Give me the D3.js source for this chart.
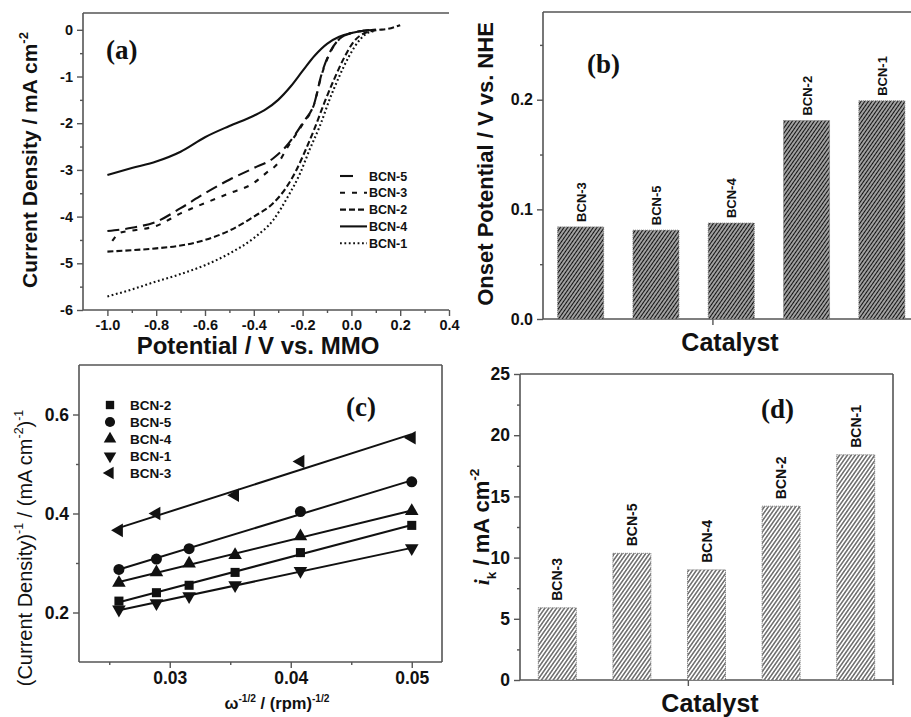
<!DOCTYPE html>
<html>
<head>
<meta charset="utf-8">
<script src="https://cdn.jsdelivr.net/npm/d3@7"></script>
<style>
  body { margin: 0; background: #fff; }
  svg { display: block; }
</style>
</head>
<body>
<svg id="fig" width="911" height="717"></svg>
<script>
// ---------------- data ----------------
// (a) linear sweep voltammograms: potential (V vs. MMO) and current density (mA cm^-2)
const lsvNames = ["BCN-5", "BCN-3", "BCN-2", "BCN-4", "BCN-1"];
const bcn5V = [-1.0, -0.9, -0.8, -0.7, -0.6, -0.5, -0.4, -0.32, -0.26, -0.2, -0.15, -0.125, -0.09, -0.05, 0.0, 0.05, 0.1];
const bcn5J = [-4.31, -4.24, -4.11, -3.82, -3.5, -3.21, -2.96, -2.75, -2.45, -2.0, -1.54, -1.0, -0.5, -0.2, -0.07, -0.02, 0.0];
const bcn3V = [-0.98, -0.95, -0.9, -0.8, -0.7, -0.6, -0.5, -0.4, -0.35, -0.3, -0.26, -0.2, -0.15, -0.125, -0.09, -0.05, 0.0, 0.05, 0.1];
const bcn3J = [-4.52, -4.35, -4.3, -4.2, -3.93, -3.71, -3.5, -3.28, -3.07, -2.85, -2.5, -2.02, -1.55, -1.02, -0.52, -0.2, -0.07, -0.02, 0.0];
const bcn2V = [-1.0, -0.9, -0.8, -0.7, -0.6, -0.5, -0.4, -0.32, -0.27, -0.23, -0.19, -0.15, -0.11, -0.07, -0.03, 0.01, 0.05, 0.1, 0.15, 0.2];
const bcn2J = [-4.75, -4.72, -4.68, -4.62, -4.5, -4.3, -4.0, -3.71, -3.4, -3.05, -2.6, -2.1, -1.55, -1.05, -0.6, -0.25, -0.08, -0.01, 0.02, 0.1];
const bcn4V = [-1.0, -0.9, -0.8, -0.7, -0.6, -0.5, -0.4, -0.35, -0.3, -0.25, -0.2, -0.15, -0.1, -0.05, 0.0, 0.05, 0.1];
const bcn4J = [-3.11, -2.96, -2.82, -2.61, -2.3, -2.06, -1.84, -1.7, -1.5, -1.22, -0.88, -0.55, -0.3, -0.15, -0.07, -0.02, 0.0];
const bcn1V = [-1.0, -0.9, -0.8, -0.7, -0.6, -0.5, -0.4, -0.32, -0.26, -0.21, -0.17, -0.13, -0.09, -0.05, -0.01, 0.035, 0.065, 0.1];
const bcn1J = [-5.71, -5.56, -5.39, -5.23, -5.04, -4.79, -4.46, -4.07, -3.57, -3.07, -2.55, -2.07, -1.5, -1.0, -0.57, -0.21, -0.07, -0.02];
const lsvDash = ["12,6", "5,7", "6,3", "none", "1.8,2.6"];

// (b) onset potential (V vs. NHE)
const catalysts = ["BCN-3", "BCN-5", "BCN-4", "BCN-2", "BCN-1"];
const onsetPotential = [0.084, 0.081, 0.0875, 0.181, 0.199];

// (c) Koutecky-Levich data: omega^-1/2 (rpm^-1/2) vs. 1/j
const klNames = ["BCN-2", "BCN-5", "BCN-4", "BCN-1", "BCN-3"];
const klShapes = ["square", "circle", "up", "down", "left"];
const klX2 = [0.0258, 0.0289, 0.0316, 0.0354, 0.0408, 0.05];
const klY2 = [0.223, 0.240, 0.255, 0.281, 0.321, 0.376];
const klX5 = [0.0258, 0.0289, 0.0316, 0.0408, 0.05];
const klY5 = [0.287, 0.308, 0.329, 0.404, 0.464];
const klX4 = [0.0258, 0.0289, 0.0316, 0.0354, 0.0408, 0.05];
const klY4 = [0.260, 0.281, 0.299, 0.316, 0.354, 0.405];
const klX1 = [0.0258, 0.0289, 0.0316, 0.0354, 0.0408, 0.05];
const klY1 = [0.206, 0.219, 0.233, 0.255, 0.284, 0.330];
const klX3 = [0.0258, 0.0289, 0.0354, 0.0408, 0.05];
const klY3 = [0.366, 0.400, 0.437, 0.505, 0.553];

// (d) kinetic current density (mA cm^-2)
const kineticCurrent = [5.9, 10.35, 9.0, 14.2, 18.4];

// tick values
const aTicksX = [-1.0, -0.8, -0.6, -0.4, -0.2, 0.0, 0.2, 0.4];
const aTicksY = [0, -1, -2, -3, -4, -5, -6];
const bTicksY = [0.0, 0.1, 0.2];
const cTicksX = [0.03, 0.04, 0.05];
const cTicksY = [0.2, 0.4, 0.6];
const dTicksY = [0, 5, 10, 15, 20, 25];

// ---------------- drawing ----------------
const SANS = "'Liberation Sans', Arial, Helvetica, sans-serif";
const SERIF = "'Liberation Serif', 'Times New Roman', serif";
const AX = "#555";
const svg = d3.select("#fig");

const defs = svg.append("defs");
function hatch(id, size, sw, color) {
  const p = defs.append("pattern").attr("id", id)
    .attr("patternUnits", "userSpaceOnUse")
    .attr("width", size).attr("height", size)
    .attr("patternTransform", "rotate(35)");
  p.append("rect").attr("width", size).attr("height", size).attr("fill", "#fff");
  p.append("line").attr("x1", size / 2).attr("x2", size / 2)
    .attr("y1", 0).attr("y2", size)
    .attr("stroke", color).attr("stroke-width", sw);
}
hatch("hatchB", 3, 1.8, "#111");
hatch("hatchD", 3.2, 1.1, "#333");

function styleAxis(sel, fs) {
  sel.select(".domain").remove();
  sel.selectAll(".tick line").attr("stroke", AX).attr("stroke-width", 1.4);
  sel.selectAll(".tick text")
    .attr("font-family", SANS).attr("font-weight", "bold")
    .attr("font-size", fs).attr("fill", "#111");
}
function leftAxis(g, y, x0, major, minor, fmt, fs) {
  if (minor) g.append("g").attr("transform", `translate(${x0},0)`)
    .call(d3.axisLeft(y).tickValues(minor).tickSize(3).tickFormat(""))
    .call(s => styleAxis(s, fs));
  g.append("g").attr("transform", `translate(${x0},0)`)
    .call(d3.axisLeft(y).tickValues(major).tickSize(6).tickPadding(4).tickFormat(fmt))
    .call(s => styleAxis(s, fs));
}
function bottomAxis(g, x, y0, major, minor, fmt, fs) {
  if (minor) g.append("g").attr("transform", `translate(0,${y0})`)
    .call(d3.axisBottom(x).tickValues(minor).tickSize(3).tickFormat(""))
    .call(s => styleAxis(s, fs));
  g.append("g").attr("transform", `translate(0,${y0})`)
    .call(d3.axisBottom(x).tickValues(major).tickSize(6).tickPadding(4).tickFormat(fmt))
    .call(s => styleAxis(s, fs));
}
function seg(g, x1, y1, x2, y2) {
  g.append("line").attr("x1", x1).attr("y1", y1).attr("x2", x2).attr("y2", y2)
    .attr("stroke", AX).attr("stroke-width", 1.6);
}
function panelTag(g, txt, x, y) {
  g.append("text").attr("x", x).attr("y", y).text(txt)
    .attr("font-family", SERIF).attr("font-weight", "bold")
    .attr("font-size", 27).attr("fill", "#111");
}
function rotLabel(g, x, y, fs, parts, weight = "bold") {
  const t = g.append("text").attr("transform", `translate(${x},${y}) rotate(-90)`)
    .attr("text-anchor", "middle").attr("font-family", SANS)
    .attr("font-weight", weight).attr("font-size", fs).attr("fill", "#111");
  parts.forEach(p => {
    const s = t.append("tspan").text(p.t);
    if (p.sup) s.attr("font-size", fs * 0.62).attr("dy", -fs * 0.45);
    if (p.sub) s.attr("font-size", fs * 0.62).attr("dy", fs * 0.3);
    if (p.back) s.attr("dy", p.back);
    if (p.italic) s.attr("font-style", "italic").attr("font-family", SERIF);
  });
  return t;
}
function hLabel(g, x, y, fs, parts) {
  const t = g.append("text").attr("x", x).attr("y", y)
    .attr("text-anchor", "middle").attr("font-family", SANS)
    .attr("font-weight", "bold").attr("font-size", fs).attr("fill", "#111");
  parts.forEach(p => {
    const s = t.append("tspan").text(p.t);
    if (p.sup) s.attr("font-size", fs * 0.62).attr("dy", -fs * 0.45);
    if (p.back) s.attr("dy", p.back);
  });
  return t;
}
const fmt1 = d => d.toFixed(1);
const fmt2 = d => d.toFixed(2);
const fmtInt = d => String(d);

// ----- panel (a) -----
{
  const g = svg.append("g");
  const L = 83, R = 449, T = 13, B = 310;
  const x = d3.scaleLinear().domain([-1.1, 0.4]).range([L, R]);
  const y = d3.scaleLinear().domain([-6, 0.36]).range([B, T]);
  seg(g, L, T, R, T); seg(g, L, T, L, B); seg(g, L, B, R, B);
  leftAxis(g, y, L, aTicksY, d3.range(-5.5, 0.1, 1), fmtInt, 14.5);
  bottomAxis(g, x, B, aTicksX, [-0.9, -0.7, -0.5, -0.3, -0.1, 0.1, 0.3], fmt1, 14.5);

  const curves = [[bcn5V, bcn5J], [bcn3V, bcn3J], [bcn2V, bcn2J], [bcn4V, bcn4J], [bcn1V, bcn1J]];
  const line = d3.line().x(d => x(d[0])).y(d => y(d[1])).curve(d3.curveMonotoneX);
  curves.forEach((c, i) => {
    const pts = c[0].map((v, k) => [v, c[1][k]]);
    g.append("path").attr("d", line(pts)).attr("fill", "none")
      .attr("stroke", "#111").attr("stroke-width", 2.1)
      .attr("stroke-dasharray", lsvDash[i]);
  });
  // legend
  lsvNames.forEach((n, i) => {
    const yy = 176 + i * 16.8;
    g.append("line").attr("x1", 340).attr("x2", 367).attr("y1", yy).attr("y2", yy)
      .attr("stroke", "#111").attr("stroke-width", 2.1)
      .attr("stroke-dasharray", i === 0 ? "13,20" : lsvDash[i]);
    g.append("text").attr("x", 369).attr("y", yy).attr("dy", "0.36em").text(n)
      .attr("font-family", SANS).attr("font-weight", "bold").attr("font-size", 12.5).attr("fill", "#111");
  });
  panelTag(g, "(a)", 106, 59);
  rotLabel(g, 37, 160, 21, [{ t: "Current Density / mA cm" }, { t: "-2", sup: true }]);
  hLabel(g, 258, 354, 24, [{ t: "Potential / V vs. MMO" }]);
}

// ----- panel (b) -----
{
  const g = svg.append("g");
  const L = 543, T = 12, B = 319, R = 919.5;
  const x = d3.scaleLinear().domain([0.5, 5.5]).range([L, R]);
  const y = d3.scaleLinear().domain([0, 0.28]).range([B, T]);
  seg(g, L, T, R, T); seg(g, L, T, L, B); seg(g, L, B, R, B);
  leftAxis(g, y, L, bTicksY, [0.05, 0.15, 0.25], fmt1, 16);
  bottomAxis(g, x, B, [2.75], null, () => "", 16);
  const bw = 46;
  catalysts.forEach((c, i) => {
    const cx = x(i + 1), top = y(onsetPotential[i]);
    g.append("rect").attr("x", cx - bw / 2).attr("y", top).attr("width", bw).attr("height", B - top)
      .attr("fill", "url(#hatchB)").attr("stroke", "#777").attr("stroke-width", 1).attr("stroke-dasharray", "1,1");
    g.append("text").attr("transform", `translate(${cx + 5},${top - 5}) rotate(-90)`)
      .text(c).attr("font-family", SANS).attr("font-weight", "bold").attr("font-size", 13).attr("fill", "#111");
  });
  panelTag(g, "(b)", 587, 73);
  rotLabel(g, 493, 164, 22, [{ t: "Onset Potential / V vs. NHE" }]);
  hLabel(g, 730, 351, 25, [{ t: "Catalyst" }]);
}

// ----- panel (c) -----
{
  const g = svg.append("g");
  const L = 79, R = 442, T = 365, B = 662;
  const x = d3.scaleLinear().domain([0.0225, 0.0525]).range([L, R]);
  const y = d3.scaleLinear().domain([0.1, 0.7]).range([B, T]);
  seg(g, L, T, R, T); seg(g, L, T, L, B); seg(g, L, B, R, B); seg(g, R, T, R, B);
  leftAxis(g, y, L, cTicksY, [0.3, 0.5], fmt1, 17.5);
  bottomAxis(g, x, B, cTicksX, [0.025, 0.035, 0.045], fmt2, 17.5);

  const xs = [klX2, klX5, klX4, klX1, klX3];
  const ys = [klY2, klY5, klY4, klY1, klY3];
  const sym = s => {
    if (s === "square") return { type: d3.symbolSquare, size: 82, rot: 0 };
    if (s === "circle") return { type: d3.symbolCircle, size: 95, rot: 0 };
    if (s === "up") return { type: d3.symbolTriangle, size: 80, rot: 0 };
    if (s === "down") return { type: d3.symbolTriangle, size: 80, rot: 180 };
    return { type: d3.symbolTriangle, size: 80, rot: -90 };
  };
  xs.forEach((xa, i) => {
    const ya = ys[i];
    // least-squares fit through the measured points
    const mx = d3.mean(xa), my = d3.mean(ya);
    const sxy = d3.sum(xa, (v, k) => (v - mx) * (ya[k] - my));
    const sxx = d3.sum(xa, v => (v - mx) * (v - mx));
    const k = sxy / sxx, b0 = my - k * mx;
    const x0 = d3.min(xa), x1 = d3.max(xa);
    g.append("line").attr("x1", x(x0)).attr("y1", y(k * x0 + b0))
      .attr("x2", x(x1)).attr("y2", y(k * x1 + b0))
      .attr("stroke", "#111").attr("stroke-width", 2);
    const s = sym(klShapes[i]);
    xa.forEach((v, j) => {
      g.append("path").attr("d", d3.symbol(s.type, s.size)())
        .attr("transform", `translate(${x(v)},${y(ya[j])}) rotate(${s.rot})`)
        .attr("fill", "#111");
    });
    // legend
    const ly = 405 + i * 17;
    g.append("path").attr("d", d3.symbol(s.type, s.size * 0.85)())
      .attr("transform", `translate(110,${ly}) rotate(${s.rot})`).attr("fill", "#111");
    g.append("text").attr("x", 130).attr("y", ly).attr("dy", "0.36em").text(klNames[i])
      .attr("font-family", SANS).attr("font-weight", "bold").attr("font-size", 13.5).attr("fill", "#111");
  });
  panelTag(g, "(c)", 346, 416);
  rotLabel(g, 32, 548, 20, [
    { t: "(Current Density)" }, { t: "-1", sup: true }, { t: " / (mA cm", back: 20 * 0.45 },
    { t: "-2", sup: true }, { t: ")", back: 20 * 0.45 }, { t: "-1", sup: true }
  ], "normal");
  hLabel(g, 277, 709, 16.5, [
    { t: "\u03c9" }, { t: "-1/2", sup: true }, { t: " / (rpm)", back: 16.5 * 0.45 }, { t: "-1/2", sup: true }
  ]);
}

// ----- panel (d) -----
{
  const g = svg.append("g");
  const L = 520, R = 893, T = 374, B = 680;
  const x = d3.scaleLinear().domain([0.5, 5.5]).range([L, R]);
  const y = d3.scaleLinear().domain([0, 25]).range([B, T]);
  seg(g, L, T, R, T); seg(g, L, T, L, B); seg(g, L, B, R, B); seg(g, R, T, R, B + 5);
  leftAxis(g, y, L, dTicksY, d3.range(2.5, 25, 5), fmtInt, 17.5);
  bottomAxis(g, x, B, [2.75], null, () => "", 17.5);
  const bw = 38;
  catalysts.forEach((c, i) => {
    const cx = x(i + 1), top = y(kineticCurrent[i]);
    g.append("rect").attr("x", cx - bw / 2).attr("y", top).attr("width", bw).attr("height", B - top)
      .attr("fill", "url(#hatchD)").attr("stroke", "#777").attr("stroke-width", 1).attr("stroke-dasharray", "1,1");
    g.append("text").attr("transform", `translate(${cx + 5},${top - 7}) rotate(-90)`)
      .text(c).attr("font-family", SANS).attr("font-weight", "bold").attr("font-size", 14).attr("fill", "#111");
  });
  panelTag(g, "(d)", 761, 418);
  rotLabel(g, 489, 527, 22, [
    { t: "i", italic: true }, { t: "k", sub: true }, { t: " / mA cm", back: -22 * 0.3 }, { t: "-2", sup: true }
  ]);
  hLabel(g, 710, 712, 25, [{ t: "Catalyst" }]);
}
</script>
</body>
</html>
